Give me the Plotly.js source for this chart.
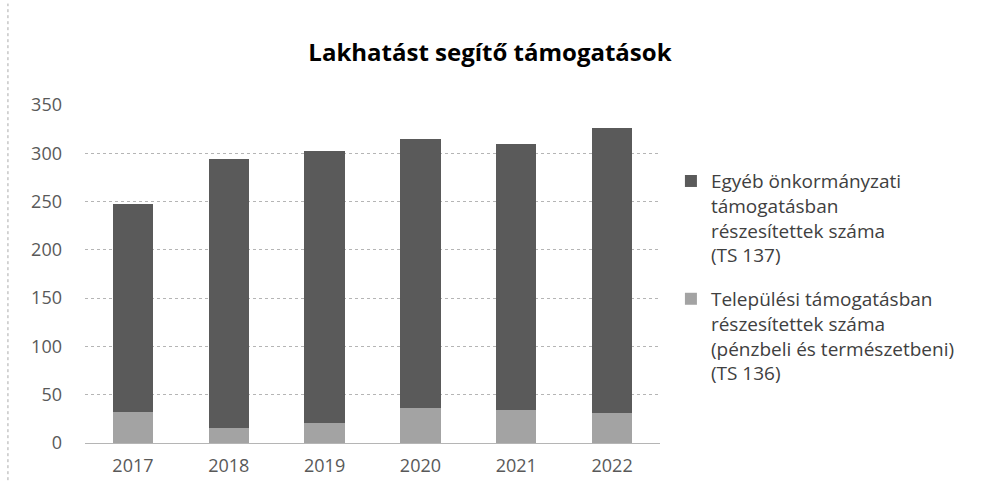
<!DOCTYPE html>
<html><head><meta charset="utf-8">
<script src="https://cdn.plot.ly/plotly-3.0.1.min.js"></script>
<style>body{margin:0;background:#fff}#c{width:1004px;height:498px}</style>
</head><body><div id="c"></div>
<script>
const years = ['2017','2018','2019','2020','2021','2022'];
const telepulesi = [32, 16, 21, 36, 34, 31];
const egyeb = [216, 278, 281, 279, 276, 295];
const nameEgyeb = 'Egyéb önkormányzati<br>támogatásban<br>részesítettek száma<br>(TS 137)';
const nameTelep = 'Települési támogatásban<br>részesítettek száma<br>(pénzbeli és természetbeni)<br>(TS 136)';

const traces = [
  {type:'bar', x:years, y:telepulesi, name:nameTelep, legendgroup:'b', legendrank:2, marker:{color:'#a3a3a3'}},
  {type:'bar', x:years, y:egyeb, name:nameEgyeb, legendgroup:'a', legendrank:1, marker:{color:'#5a5a5a'}}
];
const layout = {
  width:1004, height:498,
  margin:{l:85, r:344, t:105, b:55},
  barmode:'stack', bargap:0.58,
  paper_bgcolor:'#fff', plot_bgcolor:'#fff',
  title:{text:'<b>Lakhatást segítő támogatások</b>', xref:'container', x:0.488, xanchor:'center', yref:'container', y:0.894, yanchor:'middle',
         font:{family:'Open Sans, Liberation Sans, sans-serif', size:24, color:'#000'}},
  font:{family:'Open Sans, Liberation Sans, sans-serif', color:'#595959'},
  xaxis:{tickfont:{size:18, color:'#595959'}, showline:false, ticks:'', ticklabelstandoff:10},
  yaxis:{range:[0,350], dtick:50, tickfont:{size:18, color:'#595959'}, gridcolor:'#b5b5b5', griddash:'dot',
         zeroline:true, zerolinecolor:'#b5b5b5', ticklabelstandoff:22},
  legend:{x:1.019, y:0.831, xanchor:'left', yanchor:'top', valign:'top', font:{size:19, color:'#404040'},
          tracegroupgap:16, itemwidth:30, traceorder:'grouped'},
  showlegend:true,
  shapes:[{type:'line', xref:'paper', yref:'paper', x0:-0.134, x1:-0.134, y0:-0.11, y1:1.3, line:{color:'#aaa', width:1, dash:'dot'}}]
};
Plotly.newPlot('c', traces, layout, {displayModeBar:false});
</script></body></html>
